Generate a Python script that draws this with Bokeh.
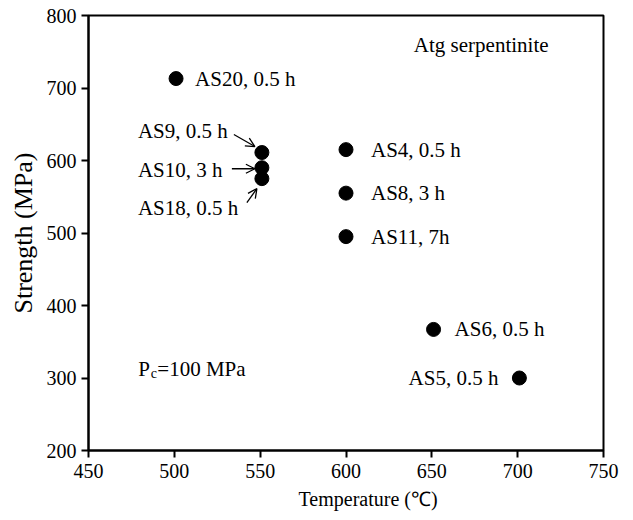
from bokeh.plotting import figure
from bokeh.models import Range1d, SingleIntervalTicker, Arrow, OpenHead, ColumnDataSource, Title
from bokeh.core.properties import value
from bokeh.embed import file_html
from bokeh.resources import INLINE

# ---- data ----
temperature = [501, 551, 551, 551, 600, 600, 600, 651, 701]
strength = [713, 611, 590, 575, 615, 555, 495, 367, 300]
labels = ["AS20, 0.5 h", "AS9, 0.5 h", "AS10, 3 h", "AS18, 0.5 h",
          "AS4, 0.5 h", "AS8, 3 h", "AS11, 7h", "AS6, 0.5 h", "AS5, 0.5 h"]
# label offsets in screen pixels (dx right, dy down) and alignment
label_dx = [19, -124, -124, -124, 25, 25, 25, 21, -21]
label_dy = [0, -22, 2, 29, 0, 0, 0, 0, 0]
label_align = ["left", "left", "left", "left", "left", "left", "left", "left", "right"]
# arrows: index of point, start/end offsets in pixels (dx right, dy down)
arrow_pt = [1, 2, 3]
arrow_start = [(-28, -18), (-30, 1), (-15, 24)]
arrow_end = [(-7, -6), (-7, 1), (-5, 10)]

FONT = "Liberation Serif"
W, H = 625, 520
BL, BR, BT, BB = 88, 22, 15, 70
FW, FH = W - BL - BR, H - BT - BB
XMIN, XMAX, YMIN, YMAX = 450, 750, 200, 800
kx = (XMAX - XMIN) / FW
ky = (YMAX - YMIN) / FH

p = figure(width=W, height=H, output_backend="svg", toolbar_location=None,
           x_range=Range1d(XMIN, XMAX), y_range=Range1d(YMIN, YMAX),
           min_border_left=BL, min_border_right=BR, min_border_top=BT, min_border_bottom=BB)
p.grid.visible = False
p.outline_line_color = "black"
p.outline_line_width = 2
p.background_fill_color = "white"
p.border_fill_color = "white"

p.xaxis.ticker = SingleIntervalTicker(interval=50)
p.yaxis.ticker = SingleIntervalTicker(interval=100)
for ax in (p.xaxis[0], p.yaxis[0]):
    ax.axis_line_width = 2
    ax.major_tick_line_width = 2
    ax.major_tick_out = 7
    ax.major_tick_in = 0
    ax.minor_tick_out = 0
    ax.minor_tick_in = 0
    ax.major_label_text_font = FONT
    ax.major_label_text_font_size = "20px"
    ax.major_label_text_color = "black"
    ax.axis_label_text_font = FONT
    ax.axis_label_text_font_style = "normal"
    ax.axis_label_text_color = "black"
p.yaxis.axis_label_text_font_size = "26px"
p.yaxis.axis_label = "Strength (MPa)"
p.xaxis.major_label_standoff = 6
p.yaxis.major_label_standoff = 5
p.yaxis.axis_label_standoff = 6

# x-axis title, placed slightly right of centre as in the reference
p.add_layout(Title(text="Temperature (℃)", align="left", offset=210, standoff=11,
                   text_font=FONT, text_font_size="20px", text_font_style="normal",
                   text_color="black"), "below")

p.scatter(temperature, strength, size=14, color="black")

tx = [x + dx * kx for x, dx in zip(temperature, label_dx)]
ty = [y - dy * ky for y, dy in zip(strength, label_dy)]
src = ColumnDataSource(dict(x=tx, y=ty, t=labels, a=label_align))
p.text("x", "y", text="t", text_align="a", source=src, text_baseline="middle",
       text_font=value(FONT), text_font_size="21px", text_color="black")

for i, (s, e) in zip(arrow_pt, zip(arrow_start, arrow_end)):
    x0, y0 = temperature[i], strength[i]
    p.add_layout(Arrow(end=OpenHead(size=9, line_width=1.3, line_color="black"),
                       x_start=x0 + s[0] * kx, y_start=y0 - s[1] * ky,
                       x_end=x0 + e[0] * kx, y_end=y0 - e[1] * ky,
                       line_width=1.3, line_color="black"))

# annotations
p.text([718], [759], text=["Atg serpentinite"], text_align="right", text_baseline="middle",
       text_font=value(FONT), text_font_size="21px", text_color="black")
pc_x, pc_y = 479, 312
p.text([pc_x], [pc_y], text=["P"], text_align="left", text_baseline="middle",
       text_font=value(FONT), text_font_size="21px", text_color="black")
p.text([pc_x + 12.5 * kx], [pc_y - 4 * ky], text=["c"], text_align="left", text_baseline="middle",
       text_font=value(FONT), text_font_size="14px", text_color="black")
p.text([pc_x + 19 * kx], [pc_y], text=["=100 MPa"], text_align="left", text_baseline="middle",
       text_font=value(FONT), text_font_size="21px", text_color="black")

open("out.html", "w").write(file_html(p, INLINE))
